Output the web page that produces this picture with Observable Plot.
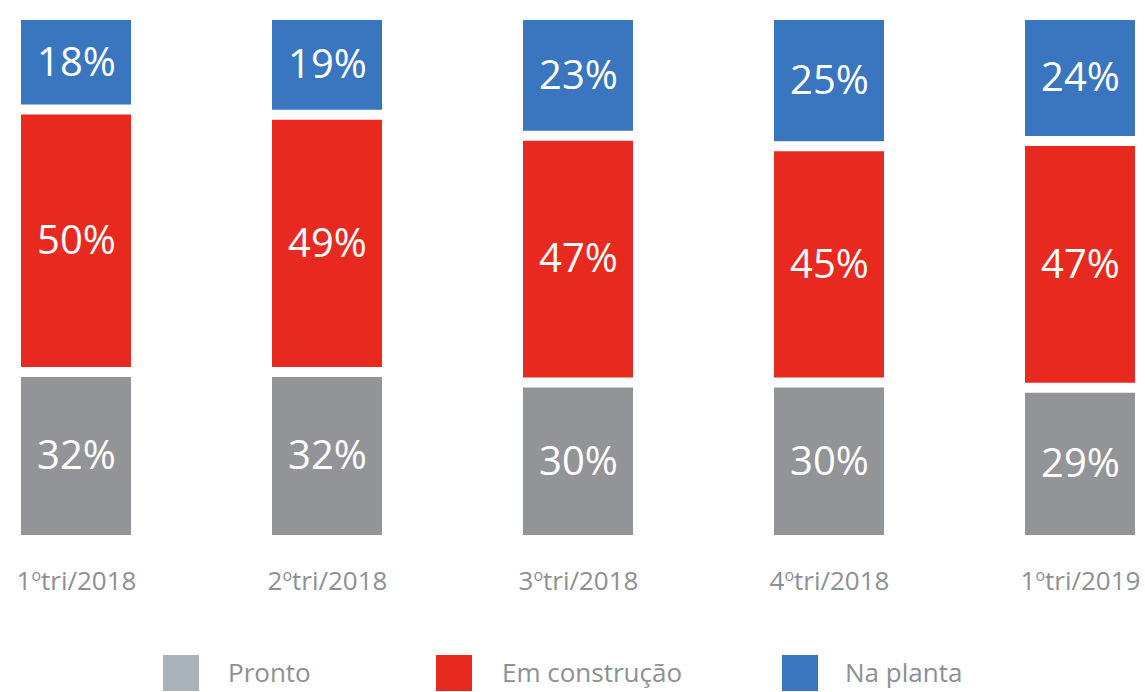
<!DOCTYPE html>
<html>
<head>
<meta charset="utf-8">
<script src="https://cdn.jsdelivr.net/npm/d3@7"></script>
<script src="https://cdn.jsdelivr.net/npm/@observablehq/plot@0.6"></script>
<style>
  html, body { margin: 0; padding: 0; background: #fff; }
  #chart { width: 1145px; }
  #legend { position: relative; width: 1145px; height: 72px; font-family: 'Open Sans', sans-serif; font-size: 26px; color: #8e8f93; }
  .item { position: absolute; top: 35px; height: 36px; }
  .sw { position: absolute; top: 0; width: 36px; height: 36px; }
  .lab { position: absolute; top: -1px; white-space: nowrap; line-height: 36px; }
</style>
</head>
<body>
<div id="chart"></div>
<div id="legend"></div>
<script>
const quarters = ["1ºtri/2018", "2ºtri/2018", "3ºtri/2018", "4ºtri/2018", "1ºtri/2019"];
const types = ["Pronto", "Em construção", "Na planta"];
const pronto = [32, 32, 30, 30, 29];
const emConstrucao = [50, 49, 47, 45, 47];
const naPlanta = [18, 19, 23, 25, 24];
const barColors = ["#939498", "#e72920", "#3a75c0"];
const legendColors = ["#aab3bb", "#e72920", "#3a75c0"];

const series = [pronto, emConstrucao, naPlanta];
const data = quarters.flatMap((q, i) => types.map((t, k) => ({quarter: q, type: t, value: series[k][i]})));

const chart = Plot.plot({
  width: 1145,
  height: 620,
  marginLeft: 20,
  marginRight: 9,
  marginTop: 10,
  marginBottom: 85,
  x: {domain: quarters, paddingInner: 0.5626, paddingOuter: 0, label: null},
  y: {domain: [0, 100], axis: null},
  color: {domain: types, range: barColors},
  style: {fontFamily: "'Open Sans', sans-serif", background: "white"},
  marks: [
    Plot.barY(data, {x: "quarter", y: "value", fill: "type", insetTop: 10}),
    Plot.text(data, Plot.stackY({x: "quarter", y: "value", z: "type", text: d => d.value + "%", fill: "white", fontSize: 40, dy: 5})),
    Plot.axisX({tickSize: 0, tickPadding: 36, fontSize: 26, fill: "#8e8f93", label: null})
  ]
});
document.getElementById("chart").appendChild(chart);

// render ordinal "º" as a small raised "o"
d3.select(chart).selectAll("text").each(function() {
  const t = this.textContent;
  if (t.includes("º") && !this.querySelector("tspan")) {
    const [a, b] = t.split("º");
    const sel = d3.select(this);
    sel.text(null);
    sel.append("tspan").text(a);
    sel.append("tspan").attr("font-size", "16").attr("dy", "-9").text("o");
    sel.append("tspan").attr("dy", "9").text(b);
  }
});

const legendPos = [[163, 228], [436, 502], [782, 845]];
const legend = d3.select("#legend");
types.forEach((t, i) => {
  legend.append("div").attr("class", "sw").style("left", legendPos[i][0] + "px").style("top", "35px").style("background", legendColors[i]);
  legend.append("div").attr("class", "lab").style("left", legendPos[i][1] + "px").style("top", "34px").text(t);
});
</script>
</body>
</html>
